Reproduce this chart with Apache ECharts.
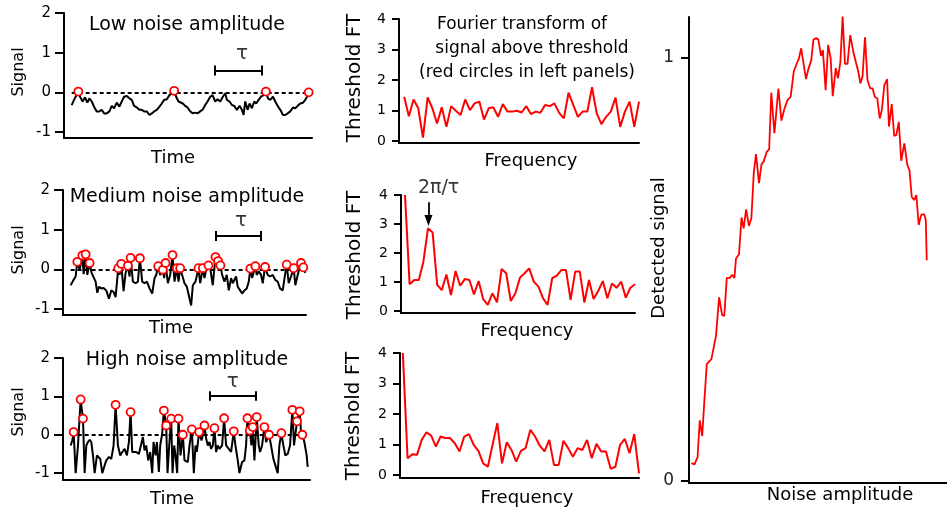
<!DOCTYPE html>
<html><head><meta charset="utf-8">
<script src="https://cdn.jsdelivr.net/npm/echarts@6.0.0/dist/echarts.min.js"></script>
<style>html,body{margin:0;padding:0;background:#fff}#c{width:947px;height:513px}</style>
</head><body><div id="c"></div><script>
// ---------- data ----------
const lowTime = [15,22,35,40,48,55,62,68,75,82,90,98,105,112,120,128,135,142,150,158,165,172,180,188,195,202,210,218,225,232,240,248,255,262,270,278,285,292,300,308,315,322,328,335,340,348,355,362,370,378,385,392,400,408,415,422,430,437,445,452,460,468,475,480,488,495,502,510,518,525,530,535,542,548,555,562,568,575,582,590,597,603,610,618,625,632,640,648,655,662,670,678,685,692,700,708,715,720,725];
const lowSignal = [-0.32,-0.19,0.02,-0.11,-0.23,-0.125,-0.26,-0.15,-0.23,-0.36,
-0.48,-0.48,-0.44,-0.53,-0.53,-0.48,-0.34,-0.4,-0.26,-0.36,
-0.23,-0.11,-0.09,-0.15,-0.19,-0.34,-0.38,-0.44,-0.44,-0.48,
-0.48,-0.57,-0.53,-0.48,-0.44,-0.36,-0.28,-0.19,-0.175,-0.07,
-0.025,0.04,-0.11,-0.23,-0.19,-0.28,-0.34,-0.38,-0.48,-0.53,
-0.51,-0.53,-0.48,-0.43,-0.32,-0.23,-0.11,-0.07,-0.23,-0.175,
-0.23,-0.11,-0.025,-0.19,-0.23,-0.32,-0.34,-0.44,-0.34,-0.44,
-0.57,-0.23,-0.44,-0.28,-0.4,-0.23,-0.28,-0.19,-0.11,-0.07,
0.02,-0.15,-0.19,-0.11,-0.23,-0.34,-0.44,-0.57,-0.57,-0.53,
-0.48,-0.38,-0.4,-0.34,-0.28,-0.26,-0.19,-0.11,0.0];
const lowCircles = [2,41,80,98];

const medTime = [13,20,28,33,40,48,52,58,63,70,76,82,88,93,98,105,112,120,128,135,142,148,156,160,165,172,178,185,190,193,200,208,215,221,228,235,242,250,258,265,270,276,282,290,294,298,305,312,319,325,332,337,342,348,355,362,368,375,380,388,397,402,410,415,420,427,433,440,448,456,463,468,475,482,488,495,500,505,510,515,522,528,535,542,548,553,558,568,572,578,585,590,597,605,612,620,628,635,642,650,657,662,668,675,683,688,695,705,708,712,718];
const medSignal = [-0.4,-0.29,-0.18,0.19,-0.01,0.35,-0.12,0.38,-0.14,0.16,
-0.09,-0.14,-0.31,-0.59,-0.44,-0.48,-0.47,-0.53,-0.74,-0.53,
-0.57,-0.7,0.03,-0.14,0.14,-0.55,-0.09,0.09,-0.18,0.29,
-0.31,-0.35,-0.31,0.28,-0.31,-0.35,-0.31,-0.48,-0.61,-0.22,
-0.14,0.08,-0.14,-0.01,-0.22,0.16,-0.35,-0.14,0.36,-0.31,
0.03,-0.31,0.03,-0.14,-0.35,-0.44,-0.66,-0.91,-0.4,-0.31,
0.03,-0.35,0.03,-0.22,-0.01,0.1,-0.01,-0.4,0.31,0.21,
0.1,-0.14,-0.31,-0.14,-0.53,-0.22,-0.35,-0.4,-0.18,-0.44,
-0.53,-0.61,-0.53,-0.48,-0.31,0.02,-0.22,0.08,-0.14,-0.05,
-0.14,-0.35,0.06,-0.14,-0.18,-0.14,-0.27,-0.31,-0.48,-0.53,
-0.14,0.12,-0.35,-0.18,0.03,-0.4,-0.14,0.16,-0.05,0.05,
-0.09];
const medCircles = [3,5,7,9,22,24,27,29,33,41,43,45,48,50,52,60,62,65,68,69,70,85,87,92,101,104,107,109];

const highTime = [13,18,22,28,35,43,50,55,60,65,70,75,80,85,92,98,102,108,115,120,128,135,142,148,155,162,168,175,182,188,193,198,204,210,218,224,230,235,240,246,252,258,262,268,272,278,282,288,293,300,304,309,315,319,324,328,333,337,343,350,355,360,365,370,377,383,388,392,399,406,410,415,420,425,430,435,440,445,450,455,460,468,474,480,488,495,503,508,515,520,528,535,540,544,551,556,560,565,572,578,582,588,595,600,609,615,622,628,635,640,646,652,658,665,672,679,684,693,701,705,709,715,722,725];
const highSignal = [-0.28,-0.15,0.07,-1,-0.28,0.92,0.42,-1,-0.28,-0.19,
-0.13,-0.19,-0.54,-1,-0.54,-0.5,-0.63,-1,-0.8,-0.67,
-0.58,-0.63,-0.28,0.78,-0.28,-0.54,-0.45,-0.37,-0.54,-0.19,
0.59,-0.45,-0.5,-0.45,-0.5,-0.28,-0.06,-0.41,-0.28,-0.67,
-0.45,-1,-0.19,-0.54,-0.19,-0.97,-0.28,0.03,0.63,0.24,
-1,-0.28,0.42,-1,-0.28,-0.54,-1,0.42,-0.54,0.0,
-0.67,-0.63,-0.71,-0.28,0.14,-1,-0.28,-0.45,0.07,-0.15,
-0.02,0.24,-0.1,-0.28,-0.19,-0.37,-0.28,0.17,-0.45,-0.28,
-0.37,-0.28,0.43,-0.28,-0.37,-0.45,0.09,-0.28,-0.67,-1,
-0.71,-0.67,-0.28,0.43,0.11,-0.28,0.2,-0.67,0.46,-0.28,
-0.45,-0.28,0.2,-0.19,0.0,-0.28,-0.63,-0.67,-1,-0.28,
0.04,-0.28,-0.54,-0.5,-0.28,0.65,-0.28,0.35,0.61,0.07,
0.0,-0.19,-0.54,-0.84];
const highCircles = [2,5,6,23,30,48,49,52,57,59,64,68,71,77,82,86,93,94,96,98,102,104,110,115,117,118,120];

// tau bars (time span) and their heights, tau label positions
const tauLow = [445,585], tauMed = [448,585], tauHigh = [432,570];
const tauLevels = [0.55, 0.84, 1.01];
const tauLabels = [[525,0.97],[525,1.22],[500,1.39]];

// Fourier transforms (frequency bins)
const ftLow = [1.45,0.81,1.36,1.07,0.11,1.43,1.07,0.57,1.1,0.46,1.14,0.99,0.85,1.36,1.01,1.23,1.29,0.7,1.07,1.1,0.79,1.21,0.96,0.96,0.99,0.93,1.14,0.88,0.96,0.92,1.18,1.14,1.23,0.92,0.74,1.58,1.18,0.79,0.96,0.96,1.76,0.9,0.55,0.79,0.96,1.42,0.46,0.96,1.29,0.46,1.29];
const ftMed = [4.0,0.92,1.07,1.07,1.7,2.85,2.71,0.9,0.72,1.26,0.55,1.38,0.87,1.1,1.07,0.57,1.03,0.41,0.21,0.61,0.3,1.45,1.3,0.34,0.61,1.15,1.3,1.47,1.01,0.84,0.44,0.21,1.13,1.22,1.41,1.41,0.38,1.36,1.36,0.29,1.07,0.41,0.69,1.03,0.44,0.95,0.8,1.01,0.46,0.8,0.92];
const ftHigh = [4.0,0.55,0.68,0.66,1.15,1.4,1.29,0.93,1.26,1.21,1.21,1.04,0.77,1.26,1.34,0.99,0.79,0.38,0.27,0.99,1.7,0.38,1.07,0.82,0.44,0.79,0.88,1.48,1.26,0.96,0.77,1.15,0.33,0.33,1.12,0.88,0.6,0.88,0.82,1.15,0.55,1.02,0.77,0.77,0.2,0.27,0.99,1.18,0.71,1.34,0.05];
const peakArrow = [5.1, 3.75, 3.12];   // bin, arrow start, arrow end
const peakLabel = [7.3, 4.25];

// detected signal vs noise amplitude
const noiseAmp = [2.7,6,9.3,11.7,14.3,16.7,19.3,24.3,29.3,32.7,36,38.3,41,44.3,47,49.3,51,54.3,57,59.3,62,65,67.7,70.3,72.7,76,78.7,81,84.3,87,89.3,92.7,97,100.3,103.7,107,110.3,113.7,117,119.3,121.7,123.7,127,129.3,132.7,135,137.7,140.3,143.3,145.3,148.3,151,153.7,156,159.3,161.7,164.3,166.7,169.3,172,175,178.3,181,183.7,186,188.3,191,193.7,196.7,199.3,201.7,204.3,207,209.3,212,215,217,220,222.7,225,227.7,230.3,233.7,237,239.3,241.7,244.3,246.7,249.3,252,255,257,258];
const detected = [0.042,0.039,0.056,0.143,0.106,0.19,0.276,0.288,0.343,0.434,0.392,0.39,0.48,0.48,0.487,0.48,0.526,0.536,0.623,0.597,0.642,0.603,0.621,0.729,0.773,0.704,0.749,0.755,0.778,0.784,0.918,0.822,0.928,0.852,0.881,0.901,0.908,0.968,0.987,0.999,1.023,1.02,0.95,0.972,0.995,1.043,1.047,1.044,1.005,1.019,0.924,1.031,1.0,0.91,0.976,0.952,0.991,1.098,0.986,0.986,1.054,1.015,0.991,0.968,0.94,0.956,1.049,0.948,0.928,0.928,0.908,0.905,0.857,0.877,0.936,0.95,0.838,0.891,0.816,0.818,0.849,0.757,0.798,0.747,0.735,0.672,0.664,0.676,0.605,0.629,0.631,0.617,0.522];

const signalTicks = [-1,0,1,2];
const ftTicks = [0,1,2,3,4];
const detTicks = [0,1];

// ---------- chart ----------
const FONT = 'DejaVu Sans';
const RED = '#ff0000';
const chart = echarts.init(document.getElementById('c'), null, {renderer:'canvas'});

const grids = [
  {left:64, top:13, width:248, height:125},
  {left:63, top:190, width:243, height:125},
  {left:63, top:358, width:247, height:122},
  {left:399, top:19, width:240, height:124},
  {left:401, top:195, width:234, height:118},
  {left:400, top:353, width:239, height:125},
  {left:689, top:17, width:280, height:466}
];
function xAx(k, min, max){
  return {type:'value', gridIndex:k, min, max,
    axisLine:{show:true, onZero:false, lineStyle:{color:'#000', width:2}},
    axisTick:{show:false}, axisLabel:{show:false}, splitLine:{show:false}};
}
function yAx(k, min, max, ticks, fs, tl, margin, col){
  return {type:'value', gridIndex:k, min, max,
    axisLine:{show:true, onZero:false, lineStyle:{color:'#000', width:2}},
    axisTick:{show:true, length:tl, customValues:ticks, lineStyle:{color:'#000', width:2}},
    axisLabel:{show:true, customValues:ticks, fontSize:fs, fontFamily:FONT, color:col||'#000', margin},
    splitLine:{show:false}};
}
const xAxes = [xAx(0,-8,735), xAx(1,-10,720), xAx(2,-10,732), xAx(3,-1.1,50), xAx(4,-0.87,50), xAx(5,-0.6,50), xAx(6,0,280)];
const yAxes = [
  yAx(0,-1.15,2,signalTicks,15,9,13), yAx(1,-1.15,2,signalTicks,15,9,13), yAx(2,-1.18,2,signalTicks,15,9,13),
  yAx(3,-0.07,4,ftTicks,14,7,13), yAx(4,-0.07,4,ftTicks,14,7,13), yAx(5,-0.1,4,ftTicks,14,7,13),
  yAx(6,-0.005,1.097,detTicks,17,8,15,'#222')
];

function signalSeries(k, time, sig, circles, tau, lvl, tlab){
  const seg = (a,b,style) => [{coord:a, lineStyle:style}, {coord:b, lineStyle:style}];
  const solid = {type:'solid', width:2, color:'#000'};
  const h = 0.125;
  return [
    {type:'line', xAxisIndex:k, yAxisIndex:k, data:time.map((t,i)=>[t,sig[i]]),
     showSymbol:false, symbol:'none', lineStyle:{color:'#000', width:2}, z:3,
     markLine:{silent:true, symbol:'none', label:{show:false}, animation:false, data:[
       seg([time[0],0],[time[time.length-1],0],{type:[4,3], width:2, color:'#000'}),
       seg([tau[0],lvl],[tau[1],lvl],solid),
       seg([tau[0],lvl-h],[tau[0],lvl+h],solid),
       seg([tau[1],lvl-h],[tau[1],lvl+h],solid)
     ]}},
    {type:'scatter', xAxisIndex:k, yAxisIndex:k, data:circles.map(i=>[time[i],sig[i]]),
     symbol:'circle', symbolSize:8, itemStyle:{color:'#fff', borderColor:RED, borderWidth:1.8, opacity:1}, z:6},
    {type:'scatter', xAxisIndex:k, yAxisIndex:k, data:[tlab], symbolSize:1, clip:false,
     itemStyle:{color:'rgba(0,0,0,0)'}, z:6,
     label:{show:true, formatter:'τ', position:'inside', fontSize:20, fontFamily:FONT, color:'#000'}}
  ];
}
function ftSeries(k, ft){
  return {type:'line', xAxisIndex:k, yAxisIndex:k, data:ft.map((v,i)=>[i,v]),
    showSymbol:false, symbol:'none', lineStyle:{color:RED, width:2}, z:3};
}

const series = [].concat(
  signalSeries(0, lowTime, lowSignal, lowCircles, tauLow, tauLevels[0], tauLabels[0]),
  signalSeries(1, medTime, medSignal, medCircles, tauMed, tauLevels[1], tauLabels[1]),
  signalSeries(2, highTime, highSignal, highCircles, tauHigh, tauLevels[2], tauLabels[2]),
  [ftSeries(3, ftLow),
   Object.assign(ftSeries(4, ftMed), {markLine:{silent:true, animation:false, label:{show:false},
     symbol:['none','triangle'], symbolSize:[8,11],
     data:[[{coord:[peakArrow[0],peakArrow[1]], lineStyle:{color:'#000',width:1.8,type:'solid'}, itemStyle:{color:'#000'}},
            {coord:[peakArrow[0],peakArrow[2]], lineStyle:{color:'#000',width:1.8,type:'solid'}, itemStyle:{color:'#000'}}]]}}),
   {type:'scatter', xAxisIndex:4, yAxisIndex:4, data:[peakLabel], symbolSize:1, clip:false,
    itemStyle:{color:'rgba(0,0,0,0)'}, z:6,
    label:{show:true, formatter:'2π/τ', position:'inside', fontSize:19, fontFamily:FONT, color:'#000'}},
   ftSeries(5, ftHigh),
   {type:'line', xAxisIndex:6, yAxisIndex:6, data:noiseAmp.map((n,i)=>[n,detected[i]]),
    showSymbol:false, symbol:'none', lineStyle:{color:RED, width:1.8}, z:3}]
);

function txt(text, x, y, size, rot){
  return {type:'text', x, y, rotation: rot ? Math.PI/2 : 0,
    style:{text, font: size+'px "'+FONT+'"', fill:'#000', align:'center', verticalAlign:'middle'}};
}
const graphics = [
  txt('Low noise amplitude',187,25,19), txt('Medium noise amplitude',187,197,19), txt('High noise amplitude',187,360,19),
  txt('Time',173,158,18), txt('Time',171,328,18), txt('Time',172,499,18),
  txt('Signal',19,72,16,true), txt('Signal',19,250,16,true), txt('Signal',19,412,16,true),
  txt('Threshold FT',355,78,20,true), txt('Threshold FT',355,255,20,true), txt('Threshold FT',354,416,20,true),
  txt('Frequency',531,161,18), txt('Frequency',527,331,18), txt('Frequency',527,498,18),
  txt('Fourier transform of',522,25,17), txt('signal above threshold',532,49,17), txt('(red circles in left panels)',527,73,17),
  txt('Detected signal',659,248,18,true), txt('Noise amplitude',840,495,18)
];

chart.setOption({
  animation:false, backgroundColor:'#fff',
  grid:grids, xAxis:xAxes, yAxis:yAxes, series, graphic:graphics
});
</script></body></html>
